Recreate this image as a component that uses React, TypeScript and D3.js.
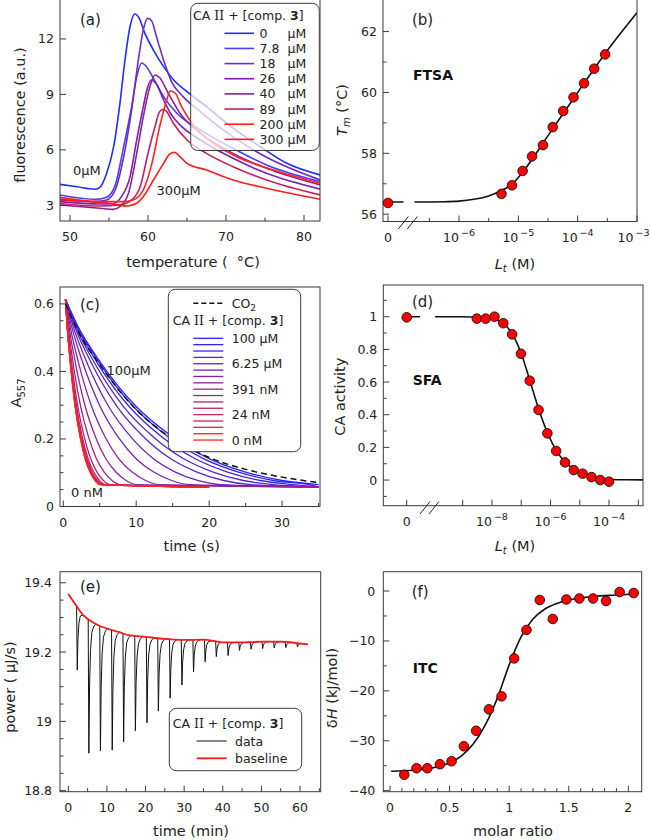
import React from "react";
import * as d3 from "d3";

const FONT = "'DejaVu Sans', Verdana, sans-serif";
const AXIS = "#3a3a3a";
const TICK_FS = 12.5;
const LABEL_FS = 14.5;

// ---------------- Panel (a): thermal melt curves ----------------
const meltLabels = ["0", "7.8", "18", "26", "40", "89", "200", "300"];
const meltColors = ["#1f2cff", "#4c3cf2", "#6a2cc8", "#7c1fb0", "#8d2195", "#c41d62", "#ff2424", "#ff1a1a"];
const melt0: [number, number][] = [[48.7,4.13],[50.9,4.0],[53.2,3.87],[53.9,4.0],[54.7,4.73],[55.6,6.17],[56.4,8.5],[57.05,10.86],[57.7,12.67],[58.3,13.35],[58.9,13.1],[59.6,12.3],[60.7,11.4],[62.0,10.5],[63.3,9.78],[65.0,9.15],[67.5,8.34],[70.9,7.17],[74.4,6.17],[77.8,5.27],[82.1,4.64]];
const melt7_8: [number, number][] = [[48.7,3.56],[53.4,3.32],[54.7,3.43],[55.8,4.1],[56.8,6.0],[57.9,8.34],[58.6,10.05],[59.2,10.7],[59.8,10.5],[60.7,9.87],[62.0,8.88],[63.7,7.98],[66.7,7.08],[70.9,6.08],[75.2,5.18],[82.1,4.28]];
const melt18: [number, number][] = [[48.7,3.29],[53.0,3.2],[54.7,3.29],[55.8,3.83],[56.8,5.45],[57.9,8.16],[58.76,10.86],[59.4,12.5],[59.95,13.12],[60.5,12.95],[61.1,12.1],[62.0,10.86],[63.0,9.7],[64.5,8.88],[66.7,8.07],[70.9,6.7],[75.2,5.6],[82.1,4.37]];
const melt26: [number, number][] = [[48.7,3.2],[53.85,3.07],[55.55,3.1],[56.6,3.47],[57.7,4.55],[58.55,6.53],[59.4,8.34],[59.9,9.3],[60.4,9.78],[61.0,9.6],[62.0,8.7],[63.0,7.9],[64.1,7.35],[66.7,6.53],[70.9,5.54],[75.2,4.73],[82.1,3.87]];
const melt40: [number, number][] = [[48.7,3.02],[53.85,2.84],[55.55,2.78],[56.4,2.93],[57.5,3.65],[58.55,5.8],[59.4,7.8],[60.25,9.42],[60.9,10.05],[61.5,9.9],[62.6,9.06],[64.1,7.98],[66.7,6.9],[70.9,5.81],[75.2,5.0],[82.1,4.1]];
const melt89: [number, number][] = [[48.7,3.1],[53.85,2.96],[56.4,3.02],[57.9,3.29],[59.0,4.0],[60.0,5.8],[60.9,7.26],[61.5,8.07],[62.0,8.18],[62.4,8.07],[63.25,7.44],[65.0,6.53],[67.5,5.81],[70.9,5.09],[75.2,4.37],[82.1,3.56]];
const melt200: [number, number][] = [[48.7,3.43],[53.85,3.2],[56.8,3.2],[58.1,3.29],[59.4,3.83],[60.5,5.27],[61.5,7.26],[62.4,8.7],[62.85,9.18],[63.5,9.06],[64.3,8.34],[65.8,7.35],[68.4,6.35],[71.8,5.54],[76.1,4.91],[82.1,4.19]];
const melt300: [number, number][] = [[48.7,3.32],[53.0,3.18],[55.1,3.1],[57.3,2.96],[58.5,3.1],[59.4,3.47],[60.7,4.37],[62.0,5.27],[62.8,5.78],[63.4,5.87],[63.9,5.72],[65.0,5.27],[67.5,4.91],[70.9,4.37],[75.2,3.92],[82.1,3.32]];
const meltCurves = [melt0, melt7_8, melt18, melt26, melt40, melt89, melt200, melt300];
const meltXTicks = [50, 60, 70, 80];
const meltYTicks = [3, 6, 9, 12];

// ---------------- Panel (b): FTSA ----------------
const ftsaTm0 = 56.37;
const ftsaConc = [5.2e-6, 7.8e-6, 1.18e-5, 1.7e-5, 2.6e-5, 3.8e-5, 5.7e-5, 8.5e-5, 1.28e-4, 1.9e-4, 2.9e-4];
const ftsaTm = [56.67, 56.95, 57.42, 57.9, 58.27, 58.86, 59.39, 59.84, 60.3, 60.78, 61.25];
const ftsaFitLogC = [-6.75, -6.25, -6, -5.75, -5.5, -5.3, -5.1, -4.9, -4.5, -4, -3.5, -3];
const ftsaFitTm = [56.4, 56.41, 56.43, 56.49, 56.6, 56.76, 57.0, 57.45, 58.58, 60.0, 61.38, 62.62];
const ftsaYTicks = [56, 58, 60, 62];
const ftsaExp = [-6, -5, -4, -3];

// ---------------- Panel (c): stopped-flow traces ----------------
const sfaRefTime = [0.3, 2, 5, 10, 15, 20, 25, 30, 35];
const sfaRefA = [0.613, 0.534, 0.43, 0.296, 0.206, 0.142, 0.102, 0.077, 0.065];
const sfaTraceScale = [1.0, 0.96, 0.9, 0.82, 0.73, 0.61, 0.49, 0.37, 0.28, 0.215, 0.175, 0.157, 0.148, 0.143, 0.14, 0.138, 0.136];
const sfaTraceEnd = [35, 35, 35, 35, 35, 35, 35, 35, 35, 20, 20, 20, 20, 20, 20, 20, 20];
const sfaPlateau = 0.058;
const sfaLegendLabels = ["100 µM", "", "", "", "6.25 µM", "", "", "", "391 nM", "", "", "", "24 nM", "", "", "", "0 nM"];
const co2Trace: [number, number][] = [[0.3,0.6],[2,0.52],[5,0.42],[10,0.287],[15,0.2],[20,0.145],[25,0.11],[30,0.087],[35,0.071]];
const sfaXTicks = [0, 10, 20, 30];
const sfaYTicks = [0, 0.2, 0.4, 0.6];

// ---------------- Panel (d): SFA activity ----------------
const sfaAct0 = 0.996;
const sfaConc = [3.05e-9, 6.1e-9, 1.22e-8, 2.44e-8, 4.88e-8, 9.77e-8, 1.95e-7, 3.91e-7, 7.81e-7, 1.56e-6, 3.13e-6, 6.25e-6, 1.25e-5, 2.5e-5, 5e-5, 1e-4];
const sfaAct = [0.988, 0.988, 1.0, 0.96, 0.892, 0.773, 0.608, 0.429, 0.286, 0.178, 0.108, 0.061, 0.039, 0.018, 0.0, -0.01];
const sfaFitLogC = [-9.95, -9, -8.5, -8, -7.75, -7.6, -7.3, -7.0, -6.7, -6.4, -6.1, -5.8, -5.5, -5.2, -4.9, -4.6, -4.3, -4, -3.5, -2.84];
const sfaFitAct = [1.0, 1.0, 0.997, 0.987, 0.975, 0.957, 0.892, 0.775, 0.606, 0.432, 0.288, 0.18, 0.11, 0.066, 0.039, 0.021, 0.011, 0.005, 0.002, 0.001];
const actYTicks = [0, 0.2, 0.4, 0.6, 0.8, 1];
const actExpTicks = [-9, -8, -7, -6, -5, -4, -3];
const actExpLabels = [-8, -6, -4];

// ---------------- Panel (e): ITC raw thermogram ----------------
const itcBaseline: [number, number][] = [[0,19.368],[2,19.335],[4,19.305],[6,19.288],[8,19.276],[10,19.268],[13,19.258],[16,19.248],[20,19.244],[25,19.238],[30,19.235],[35,19.236],[40,19.228],[45,19.228],[50,19.23],[55,19.23],[60,19.225],[62,19.222]];
const itcInjTime = [2.2, 5.2, 8.2, 11.25, 14.2, 17.25, 20.25, 23.2, 26.25, 29.3, 32.3, 35.3, 38.2, 41.25, 44.2, 47.2, 50.2, 53.2, 56.2, 59.2];
const itcInjMin = [19.148, 18.908, 18.915, 18.917, 18.941, 18.973, 18.996, 19.03, 19.067, 19.105, 19.143, 19.172, 19.187, 19.19, 19.205, 19.208, 19.21, 19.212, 19.213, 19.215];
const itcPeakShape: [number, number][] = [[-0.05,0],[0.12,1],[0.3,0.5],[0.55,0.22],[0.9,0.08],[1.4,0.025],[2.0,0]];
const itcXTicks = [0, 10, 20, 30, 40, 50, 60];
const itcYTicks = [18.8, 19, 19.2, 19.4];

// ---------------- Panel (f): ITC isotherm ----------------
const itcRatio = [0.12, 0.223, 0.313, 0.419, 0.517, 0.62, 0.723, 0.83, 0.936, 1.042, 1.145, 1.257, 1.366, 1.48, 1.589, 1.704, 1.813, 1.927, 2.045];
const itcDH = [-36.8, -35.5, -35.5, -34.7, -34.1, -31.1, -28.0, -23.7, -21.1, -13.5, -7.8, -1.8, -5.6, -1.7, -1.5, -1.5, -2.0, -0.2, -0.4];
const itcFitRatio = [0.01, 0.2, 0.4, 0.5, 0.6, 0.7, 0.8, 0.9, 1.0, 1.1, 1.2, 1.3, 1.4, 1.5, 1.7, 1.9, 2.07];
const itcFitDH = [-36.1, -35.9, -35.2, -34.4, -33.0, -30.6, -26.8, -21.5, -14.8, -9.2, -5.6, -3.6, -2.5, -1.8, -1.1, -0.8, -0.6];
const dhXTicks = [0, 0.5, 1, 1.5, 2];
const dhYTicks = [-40, -30, -20, -10, 0];

// ---------------- helpers ----------------
const fmtMinus = (v: number) => (v < 0 ? "\u2212" + String(Math.abs(v)) : String(v));

function Frame({ x0, x1, y0, y1 }: any) {
  return <rect x={x0} y={y0} width={x1 - x0} height={y1 - y0} fill="none" stroke={AXIS} strokeWidth={1} />;
}

function XTicks({ y1, major, minor = [], len = 6 }: any) {
  return (
    <g stroke={AXIS} strokeWidth={1}>
      {major.map((p: number, i: number) => <line key={"M" + i} x1={p} x2={p} y1={y1} y2={y1 - len} />)}
      {minor.map((p: number, i: number) => <line key={"m" + i} x1={p} x2={p} y1={y1} y2={y1 - 3.5} />)}
    </g>
  );
}
function YTicks({ x0, major, minor = [], len = 6 }: any) {
  return (
    <g stroke={AXIS} strokeWidth={1}>
      {major.map((p: number, i: number) => <line key={"M" + i} x1={x0} x2={x0 + len} y1={p} y2={p} />)}
      {minor.map((p: number, i: number) => <line key={"m" + i} x1={x0} x2={x0 + 3.5} y1={p} y2={p} />)}
    </g>
  );
}
function XLabels({ y, items }: any) {
  return (
    <g fontSize={TICK_FS} textAnchor="middle" fill="#222">
      {items.map((it: any, i: number) => <text key={i} x={it[0]} y={y}>{it[1]}</text>)}
    </g>
  );
}
function YLabels({ x, items }: any) {
  return (
    <g fontSize={TICK_FS} textAnchor="end" fill="#222">
      {items.map((it: any, i: number) => <text key={i} x={x} y={it[0] + 4.5}>{it[1]}</text>)}
    </g>
  );
}
function Pow({ e }: { e: number }) {
  return (
    <>
      <tspan>10</tspan>
      <tspan fontSize={9.5} dy={-6} dx={2}>{"\u2212" + Math.abs(e)}</tspan>
    </>
  );
}
function Dot({ cx, cy }: any) {
  return <circle cx={cx} cy={cy} r={4.8} fill="#ff0000" stroke="#111" strokeWidth={0.9} />;
}
function BreakMarks({ x, y }: any) {
  return (
    <g stroke="#222" strokeWidth={1}>
      <line x1={x} y1={y + 7} x2={x + 10} y2={y - 5.5} />
      <line x1={x + 9} y1={y + 7} x2={x + 19} y2={y - 5.5} />
    </g>
  );
}

export default function App() {
  // ---------- scales ----------
  const A = { x0: 60, x1: 320, y0: -1, y1: 221 };
  const xA = d3.scaleLinear().domain([48.72, 82.05]).range([A.x0, A.x1]);
  const yA = d3.scaleLinear().domain([2.15, 14.16]).range([A.y1, A.y0]);

  const B = { x0: 383, x1: 637, y0: -1, y1: 221.5 };
  const xB = d3.scaleLog().domain([1e-7, 1e-3]).range([399.7, 637]);
  const xB0 = 388;
  const yB = d3.scaleLinear().domain([55.76, 63.07]).range([B.y1, B.y0]);

  const C = { x0: 60, x1: 320, y0: 287, y1: 506.5 };
  const xC = d3.scaleLinear().domain([-0.45, 35.2]).range([C.x0, C.x1]);
  const yC = d3.scaleLinear().domain([0, 0.65]).range([C.y1, C.y0]);

  const D = { x0: 383.3, x1: 643, y0: 285, y1: 505.7 };
  const xD = d3.scaleLog().domain([1e-9, 1e-3]).range([462.7, 638.3]);
  const xD0 = 406.7;
  const yD = d3.scaleLinear().domain([-0.157, 1.194]).range([D.y1, D.y0]);

  const E = { x0: 60, x1: 320.7, y0: 571.7, y1: 791.7 };
  const xE = d3.scaleLinear().domain([-2.15, 65.35]).range([E.x0, E.x1]);
  const yE = d3.scaleLinear().domain([18.797, 19.432]).range([E.y1, E.y0]);

  const F = { x0: 383.3, x1: 641.7, y0: 571.7, y1: 791.7 };
  const xF = d3.scaleLinear().domain([-0.056, 2.112]).range([F.x0, F.x1]);
  const yF = d3.scaleLinear().domain([-40.2, 3.87]).range([F.y1, F.y0]);

  // ---------- panel (a) ----------
  const lineA = d3.line<[number, number]>().x(d => xA(d[0])).y(d => yA(d[1])).curve(d3.curveMonotoneX);

  // ---------- panel (b) ----------
  const lineB = d3.line<[number, number]>().x(d => xB(Math.pow(10, d[0]))).y(d => yB(d[1])).curve(d3.curveMonotoneX);
  const fitB: [number, number][] = ftsaFitLogC.map((l, i) => [l, ftsaFitTm[i]]);
  const bMinor = [-6.5, -5.5, -4.5, -3.5].map(e => xB(Math.pow(10, e)));

  // ---------- panel (c) ----------
  const lineC = d3.line<[number, number]>().x(d => xC(d[0])).y(d => yC(d[1])).curve(d3.curveMonotoneX);
  const sfaColor = d3.interpolateRgb("#2424ff", "#ff2424");
  const traces = sfaTraceScale.map((s, i) => {
    const end = sfaTraceEnd[i];
    const pts: [number, number][] = sfaRefTime
      .map((t, k) => [0.3 + (t - 0.3) * s, sfaRefA[k]] as [number, number])
      .filter(p => p[0] <= end + 1e-9);
    if (pts[pts.length - 1][0] < end - 0.2) pts.push([end, sfaPlateau]);
    return pts;
  });

  // ---------- panel (d) ----------
  const lineD = d3.line<[number, number]>().x(d => xD(Math.pow(10, d[0]))).y(d => yD(d[1])).curve(d3.curveMonotoneX);
  const fitD: [number, number][] = sfaFitLogC.map((l, i) => [l, sfaFitAct[i]]);

  // ---------- panel (e) ----------
  const baseAt = (t: number) => {
    for (let i = 0; i < itcBaseline.length - 1; i++) {
      const [t0, v0] = itcBaseline[i];
      const [t1, v1] = itcBaseline[i + 1];
      if (t >= t0 && t <= t1) return v0 + ((t - t0) / (t1 - t0)) * (v1 - v0);
    }
    return itcBaseline[itcBaseline.length - 1][1];
  };
  const dataPts: [number, number][] = [];
  itcBaseline.forEach(([t, v]) => {
    const inPeak = itcInjTime.some(t0 => t >= t0 - 0.1 && t <= t0 + 2.05);
    if (!inPeak) dataPts.push([t, v]);
  });
  itcInjTime.forEach((t0, i) => {
    const depth = baseAt(t0 + 0.12) - itcInjMin[i];
    itcPeakShape.forEach(([o, f]) => {
      const t = t0 + o;
      if (t <= 62) dataPts.push([t, baseAt(t) - f * depth]);
    });
  });
  dataPts.sort((a, b) => a[0] - b[0]);
  const lineE = d3.line<[number, number]>().x(d => xE(d[0])).y(d => yE(d[1]));
  const lineEs = d3.line<[number, number]>().x(d => xE(d[0])).y(d => yE(d[1])).curve(d3.curveMonotoneX);

  // ---------- panel (f) ----------
  const lineF = d3.line<[number, number]>().x(d => xF(d[0])).y(d => yF(d[1])).curve(d3.curveMonotoneX);
  const fitF: [number, number][] = itcFitRatio.map((r, i) => [r, itcFitDH[i]]);

  const rot = (x: number, y: number) => `translate(${x},${y}) rotate(-90)`;

  return (
    <svg width={650} height={840} style={{ position: "absolute", left: 0, top: 0, background: "#fff" }} fontFamily={FONT}>
      <defs>
        {[["ca", A], ["cb", B], ["cc", C], ["cd", D], ["ce", E], ["cf", F]].map(([id, r]: any) => (
          <clipPath id={id} key={id}>
            <rect x={r.x0} y={r.y0} width={r.x1 - r.x0} height={r.y1 - r.y0} />
          </clipPath>
        ))}
      </defs>
      <rect x={0} y={0} width={650} height={840} fill="#fff" />

      {/* ================= (a) ================= */}
      <g clipPath="url(#ca)">
        {meltCurves.map((c, i) => (
          <path key={i} d={lineA(c) || ""} fill="none" stroke={meltColors[i]} strokeWidth={1.6} />
        ))}
      </g>
      <XTicks y1={A.y1} major={meltXTicks.map(v => xA(v))} minor={[55, 65, 75].map(v => xA(v))} />
      <YTicks x0={A.x0} major={meltYTicks.map(v => yA(v))} />
      <Frame {...A} />
      <XLabels y={A.y1 + 20} items={meltXTicks.map(v => [xA(v), String(v)])} />
      <YLabels x={A.x0 - 6} items={meltYTicks.map(v => [yA(v), String(v)])} />
      <text x={80} y={25} fontSize={15} fill="#222">(a)</text>
      <text x={73} y={175} fontSize={13} fill="#222">0µM</text>
      <text x={156.5} y={195} fontSize={13} fill="#222">300µM</text>
      <rect x={190.7} y={3.3} width={128.6} height={147.2} rx={7} fill="#fff" fillOpacity={0.72} stroke={AXIS} strokeWidth={1} />
      <text x={193} y={19.5} fontSize={12.5} fill="#222">
        CA <tspan fontFamily="'DejaVu Serif', serif">II</tspan> + [comp. <tspan fontWeight="bold">3</tspan>]
      </text>
      {meltLabels.map((lab, i) => {
        const y = 33.3 + i * 15.15;
        return (
          <g key={i}>
            <line x1={224.5} x2={254} y1={y} y2={y} stroke={meltColors[i]} strokeWidth={1.6} />
            <text x={259.5} y={y + 4.5} fontSize={12.5} fill="#222">{lab}</text>
            <text x={287.5} y={y + 4.5} fontSize={12.5} fill="#222">µM</text>
          </g>
        );
      })}
      <text transform={rot(25, 115)} textAnchor="middle" fontSize={LABEL_FS} fill="#222">fluorescence (a.u.)</text>
      <text x={193} y={267} textAnchor="middle" fontSize={LABEL_FS} fill="#222" style={{ whiteSpace: "pre" }}>temperature (  °C)</text>

      {/* ================= (b) ================= */}
      <g clipPath="url(#cb)">
        <line x1={xB0} x2={403.5} y1={yB(56.4)} y2={yB(56.4)} stroke="#111" strokeWidth={1.6} />
        <path d={lineB(fitB) || ""} fill="none" stroke="#111" strokeWidth={1.6} />
      </g>
      <XTicks y1={B.y1} major={[xB0, ...ftsaExp.map(e => xB(Math.pow(10, e)))]} minor={bMinor} />
      <YTicks x0={B.x0} major={ftsaYTicks.map(v => yB(v))} minor={[57, 59, 61].map(v => yB(v))} />
      <Frame {...B} />
      <BreakMarks x={398.3} y={222} />
      <Dot cx={xB0} cy={yB(ftsaTm0)} />
      {ftsaConc.map((c, i) => <Dot key={i} cx={xB(c)} cy={yB(ftsaTm[i])} />)}
      <g fontSize={TICK_FS} fill="#222">
        <text x={xB0} y={B.y1 + 20} textAnchor="middle">0</text>
        {ftsaExp.map(e => {
          const last = e === -3;
          return (
            <text key={e} x={last ? 649.5 : xB(Math.pow(10, e))} y={B.y1 + 20} textAnchor={last ? "end" : "middle"}>
              <Pow e={e} />
            </text>
          );
        })}
      </g>
      <YLabels x={B.x0 - 6} items={ftsaYTicks.map(v => [yB(v), String(v)])} />
      <text x={412} y={25} fontSize={15} fill="#222">(b)</text>
      <text x={413} y={80} fontSize={14} fontWeight="bold" fill="#111">FTSA</text>
      <text transform={rot(347, 110)} textAnchor="middle" fontSize={LABEL_FS} fill="#222">
        <tspan fontStyle="italic">T</tspan><tspan fontStyle="italic" fontSize={10} dy={3}>m</tspan><tspan dy={-3}> (°C)</tspan>
      </text>
      <text x={515} y={269} textAnchor="middle" fontSize={LABEL_FS} fill="#222">
        <tspan fontStyle="italic">L</tspan><tspan fontStyle="italic" fontSize={10} dy={3}>t</tspan><tspan dy={-3}> (M)</tspan>
      </text>

      {/* ================= (c) ================= */}
      <g clipPath="url(#cc)">
        {traces.map((pts, i) => (
          <path key={i} d={lineC(pts) || ""} fill="none" stroke={sfaColor(i / 16)} strokeWidth={1.3} />
        ))}
        <path d={lineC(co2Trace) || ""} fill="none" stroke="#111" strokeWidth={1.5} strokeDasharray="6,4" />
      </g>
      <XTicks y1={C.y1} major={sfaXTicks.map(v => xC(v))} minor={[5, 15, 25, 35].map(v => xC(v))} />
      <YTicks x0={C.x0} major={sfaYTicks.map(v => yC(v))} minor={[0.05, 0.1, 0.15, 0.25, 0.3, 0.35, 0.45, 0.5, 0.55].map(v => yC(v))} />
      <Frame {...C} />
      <XLabels y={C.y1 + 20} items={sfaXTicks.map(v => [xC(v), String(v)])} />
      <YLabels x={C.x0 - 6} items={sfaYTicks.map(v => [yC(v), String(v)])} />
      <text x={80} y={310} fontSize={15} fill="#222">(c)</text>
      <text x={106.5} y={375} fontSize={13} fill="#222">100µM</text>
      <text x={71} y={496.5} fontSize={13} fill="#222">0 nM</text>
      <rect x={168.3} y={289.3} width={132.4} height={162.4} rx={7} fill="#fff" stroke={AXIS} strokeWidth={1} />
      <line x1={193.3} x2={223.3} y1={303.3} y2={303.3} stroke="#111" strokeWidth={1.5} strokeDasharray="5,3" />
      <text x={231.7} y={308} fontSize={12.5} fill="#222">CO<tspan fontSize={9} dy={3}>2</tspan></text>
      <text x={172.7} y={324.5} fontSize={12.5} fill="#222">
        CA <tspan fontFamily="'DejaVu Serif', serif">II</tspan> + [comp. <tspan fontWeight="bold">3</tspan>]
      </text>
      {sfaLegendLabels.map((lab, i) => {
        const y = 338.3 + i * 6.36;
        return (
          <g key={i}>
            <line x1={193.3} x2={223.3} y1={y} y2={y} stroke={sfaColor(i / 16)} strokeWidth={1.3} />
            {lab ? <text x={231.7} y={y + 4.5} fontSize={12.5} fill="#222">{lab}</text> : null}
          </g>
        );
      })}
      <text transform={rot(21, 393)} textAnchor="middle" fontSize={LABEL_FS} fill="#222">
        A<tspan fontSize={10} dy={4}>557</tspan>
      </text>
      <text x={191.7} y={551} textAnchor="middle" fontSize={LABEL_FS} fill="#222">time (s)</text>

      {/* ================= (d) ================= */}
      <g clipPath="url(#cd)">
        <line x1={xD0} x2={420} y1={yD(1)} y2={yD(1)} stroke="#111" strokeWidth={1.6} />
        <path d={lineD(fitD) || ""} fill="none" stroke="#111" strokeWidth={1.6} />
      </g>
      <XTicks y1={D.y1} major={[xD0, ...actExpTicks.map(e => xD(Math.pow(10, e)))]} />
      <YTicks x0={D.x0} major={actYTicks.map(v => yD(v))} minor={[-0.1, 0.1, 0.3, 0.5, 0.7, 0.9, 1.1].map(v => yD(v))} />
      <Frame {...D} />
      <BreakMarks x={420} y={507} />
      <Dot cx={xD0} cy={yD(sfaAct0)} />
      {sfaConc.map((c, i) => <Dot key={i} cx={xD(c)} cy={yD(sfaAct[i])} />)}
      <g fontSize={TICK_FS} textAnchor="middle" fill="#222">
        <text x={xD0} y={D.y1 + 20}>0</text>
        {actExpLabels.map(e => (
          <text key={e} x={xD(Math.pow(10, e))} y={D.y1 + 20}><Pow e={e} /></text>
        ))}
      </g>
      <YLabels x={D.x0 - 6} items={actYTicks.map(v => [yD(v), String(v)])} />
      <text x={412} y={306.5} fontSize={15} fill="#222">(d)</text>
      <text x={412.7} y={385} fontSize={14} fontWeight="bold" fill="#111">SFA</text>
      <text transform={rot(345, 396.7)} textAnchor="middle" fontSize={LABEL_FS} fill="#222">CA activity</text>
      <text x={515} y={551} textAnchor="middle" fontSize={LABEL_FS} fill="#222">
        <tspan fontStyle="italic">L</tspan><tspan fontStyle="italic" fontSize={10} dy={3}>t</tspan><tspan dy={-3}> (M)</tspan>
      </text>

      {/* ================= (e) ================= */}
      <g clipPath="url(#ce)">
        <path d={lineE(dataPts) || ""} fill="none" stroke="#111" strokeWidth={1} />
        <path d={lineEs(itcBaseline) || ""} fill="none" stroke="#ff1a1a" strokeWidth={1.8} />
      </g>
      <XTicks y1={E.y1} major={itcXTicks.map(v => xE(v))} minor={[5, 15, 25, 35, 45, 55, 65].map(v => xE(v))} />
      <YTicks x0={E.x0} major={itcYTicks.map(v => yE(v))} minor={[18.85, 18.9, 18.95, 19.05, 19.1, 19.15, 19.25, 19.3, 19.35].map(v => yE(v))} />
      <Frame {...E} />
      <XLabels y={E.y1 + 20} items={itcXTicks.map(v => [xE(v), String(v)])} />
      <YLabels x={E.x0 - 8} items={itcYTicks.map(v => [yE(v), String(v)])} />
      <text x={80} y={592} fontSize={15} fill="#222">(e)</text>
      <rect x={169.3} y={708.3} width={132.4} height={62.4} rx={7} fill="#fff" stroke={AXIS} strokeWidth={1} />
      <text x={172.7} y={727.5} fontSize={12.5} fill="#222">
        CA <tspan fontFamily="'DejaVu Serif', serif">II</tspan> + [comp. <tspan fontWeight="bold">3</tspan>]
      </text>
      <line x1={196.7} x2={226.7} y1={741} y2={741} stroke="#111" strokeWidth={1} />
      <text x={235} y={745.5} fontSize={12.5} fill="#222">data</text>
      <line x1={196.7} x2={226.7} y1={758.3} y2={758.3} stroke="#ff1a1a" strokeWidth={1.8} />
      <text x={235} y={762.8} fontSize={12.5} fill="#222">baseline</text>
      <text transform={rot(15, 687)} textAnchor="middle" fontSize={LABEL_FS} fill="#222" style={{ whiteSpace: "pre" }}>power ( µJ/s)</text>
      <text x={191} y={836} textAnchor="middle" fontSize={LABEL_FS} fill="#222">time (min)</text>

      {/* ================= (f) ================= */}
      <g clipPath="url(#cf)">
        <path d={lineF(fitF) || ""} fill="none" stroke="#111" strokeWidth={1.6} />
      </g>
      <XTicks y1={F.y1} major={dhXTicks.map(v => xF(v))} minor={d3.range(1, 21).filter(k => k % 5 !== 0).map(k => xF(k / 10))} />
      <YTicks x0={F.x0} major={dhYTicks.map(v => yF(v))} minor={[-35, -25, -15, -5].map(v => yF(v))} />
      <Frame {...F} />
      {itcRatio.map((r, i) => <Dot key={i} cx={xF(r)} cy={yF(itcDH[i])} />)}
      <XLabels y={F.y1 + 20} items={dhXTicks.map(v => [xF(v), String(v)])} />
      <YLabels x={F.x0 - 8} items={dhYTicks.map(v => [yF(v), fmtMinus(v)])} />
      <text x={411.7} y={597} fontSize={15} fill="#222">(f)</text>
      <text x={412.7} y={672.5} fontSize={14} fontWeight="bold" fill="#111">ITC</text>
      <text transform={rot(337, 688)} textAnchor="middle" fontSize={LABEL_FS} fill="#222">
        δ<tspan fontStyle="italic">H</tspan> (kJ/mol)
      </text>
      <text x={513} y={836} textAnchor="middle" fontSize={LABEL_FS} fill="#222">molar ratio</text>
    </svg>
  );
}
